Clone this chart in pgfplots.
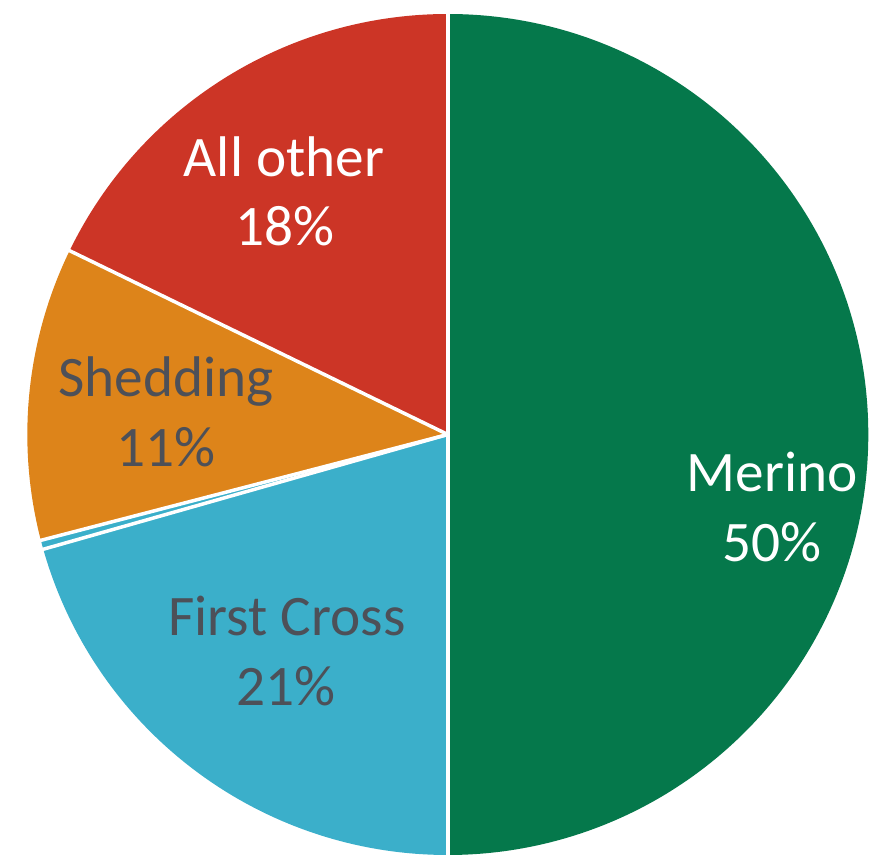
\documentclass[border=0pt]{standalone}
\usepackage{pgfplots}
\pgfplotsset{compat=1.18}
\usepackage{pgfplotstable}
\usepackage{fontspec}
\setmainfont{Carlito}

\definecolor{merino}{RGB}{5,120,75}
\definecolor{firstcross}{RGB}{59,175,202}
\definecolor{shedding}{RGB}{221,132,26}
\definecolor{allother}{RGB}{204,53,38}
\definecolor{labelgrey}{RGB}{77,80,88}

\pgfplotstableread{
name value color
Merino 50.00 merino
FirstCross 20.60 firstcross
Other 0.35 firstcross
Shedding 11.25 shedding
AllOther 17.80 allother
}\piedata

\begin{document}
\begin{tikzpicture}
\useasboundingbox (0,0) rectangle (871bp,856bp);
\begin{axis}[
  at={(0,0)}, anchor=south west,
  scale only axis, width=871bp, height=856bp,
  xmin=0, xmax=871, ymin=0, ymax=856,
  hide axis, clip=true,
]
\def\cx{447.8}\def\cy{421.5}\def\rad{420.5}\def\rr{426}
% slices
\def\curang{90}
\pgfplotsforeachungrouped \i in {0,...,4}{%
  \pgfplotstablegetelem{\i}{value}\of\piedata
  \let\val\pgfplotsretval
  \pgfplotstablegetelem{\i}{color}\of\piedata
  \let\col\pgfplotsretval
  \pgfmathsetmacro{\endang}{\curang - 3.6*\val}%
  \edef\cmd{\noexpand\fill[\col] (axis cs:\cx,\cy) -- ([shift={(\curang:\rad bp)}]axis cs:\cx,\cy) arc[start angle=\curang, end angle=\endang, radius=\rad bp] -- cycle;}%
  \cmd
  \global\let\curang\endang
}
% white separators
\def\curang{90}
\pgfplotsforeachungrouped \i in {0,...,4}{%
  \pgfplotstablegetelem{\i}{value}\of\piedata
  \let\val\pgfplotsretval
  \edef\cmd{\noexpand\draw[white, line width=3.5bp] (axis cs:\cx,\cy) -- ([shift={(\curang:\rr bp)}]axis cs:\cx,\cy);}%
  \cmd
  \pgfmathsetmacro{\endang}{\curang - 3.6*\val}%
  \global\let\curang\endang
}
% labels
\tikzset{lab/.style={anchor=base, inner sep=0pt, font=\fontsize{57.5}{69}\selectfont}}
\node[lab, white] at (axis cs:772,364) {Merino};
\node[lab, white] at (axis cs:772,294) {50\%};
\node[lab, labelgrey] at (axis cs:287,220) {First Cross};
\node[lab, labelgrey] at (axis cs:286,150) {21\%};
\node[lab, labelgrey] at (axis cs:166,459) {Shedding};
\node[lab, labelgrey] at (axis cs:166,389) {11\%};
\node[lab, white] at (axis cs:284,679) {All other};
\node[lab, white] at (axis cs:285,610) {18\%};
\end{axis}
\end{tikzpicture}
\end{document}
